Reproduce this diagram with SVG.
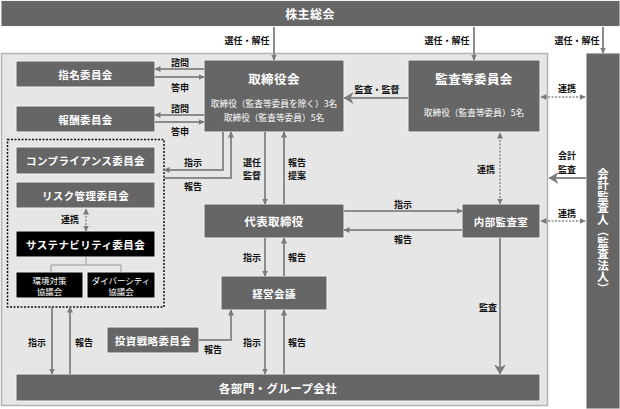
<svg xmlns="http://www.w3.org/2000/svg" width="620" height="409" viewBox="0 0 620 409">
<defs>
<style>
.box{fill:#666;stroke:#f4f4f4;stroke-width:1}
.blk{fill:#000;stroke:#f4f4f4;stroke-width:1}
.t{font-family:"Noto Sans CJK JP","Noto Sans",sans-serif;fill:#fff;text-anchor:middle;dominant-baseline:central;font-weight:bold;font-size:10.5px;letter-spacing:0.4px}
.tn{font-family:"Noto Sans CJK JP","Noto Sans",sans-serif;fill:#fff;text-anchor:middle;dominant-baseline:central;font-size:8.5px}
.ts{font-family:"Noto Sans CJK JP","Noto Sans",sans-serif;fill:#fff;text-anchor:middle;dominant-baseline:central;font-size:8.7px}
.lb{font-family:"Noto Sans CJK JP","Noto Sans",sans-serif;fill:#111;text-anchor:middle;dominant-baseline:central;font-weight:bold;font-size:9px}
.ln{fill:none;stroke:#8c8c8c;stroke-width:2}
.dl{fill:none;stroke:#8c8c8c;stroke-width:1.5;stroke-dasharray:2 1.5}
</style>
<marker id="ah" viewBox="0 0 6 6" refX="5.5" refY="3" markerWidth="6" markerHeight="6" orient="auto-start-reverse" markerUnits="userSpaceOnUse"><path d="M0,0 L6,3 L0,6 z" fill="#7a7a7a"/></marker>
<marker id="ch" viewBox="0 0 10 12" refX="9.5" refY="6" markerWidth="10" markerHeight="12" orient="auto" markerUnits="userSpaceOnUse"><path d="M0,0 L10,6 L0,12 L3,6 z" fill="#7a7a7a"/></marker>
</defs>
<rect x="0" y="0" width="620" height="409" fill="#fff"/>
<rect x="1.5" y="53.5" width="546" height="352" fill="#e6e6e6" stroke="#b4b4b4" stroke-width="1.5"/>

<g id="kabunushi"><rect class="box" x="1" y="0.5" width="619" height="26"/><text class="t" x="310" y="13" style="font-size:12px">株主総会</text></g>
<g id="kaikei"><rect class="box" x="586" y="53" width="34" height="356"/><text class="t" x="603" y="231" style="writing-mode:vertical-rl;font-size:11.5px;letter-spacing:0">会計監査人（監査法人）</text></g>
<g id="shimei"><rect class="box" x="16" y="61" width="139" height="26"/><text class="t" x="85.5" y="74">指名委員会</text></g>
<g id="houshu"><rect class="box" x="16" y="106" width="139" height="26"/><text class="t" x="85.5" y="119">報酬委員会</text></g>
<g id="torishimariyakukai"><rect class="box" x="204" y="60" width="140" height="72"/><text class="t" x="274" y="78" style="font-size:12.5px">取締役会</text><text class="ts" x="274" y="103">取締役（監査等委員を除く）3名</text><text class="ts" x="274" y="117">取締役（監査等委員）5名</text></g>
<g id="kansatou"><rect class="box" x="408" y="60" width="132" height="72"/><text class="t" x="474" y="78" style="font-size:12.5px">監査等委員会</text><text class="ts" x="474" y="112">取締役（監査等委員）5名</text></g>
<g id="group"><rect x="7.5" y="139.5" width="156.5" height="167.5" fill="none" stroke="#111" stroke-width="1.5" stroke-dasharray="2 1.5"/></g>
<g id="compliance"><rect class="box" x="16" y="147" width="139" height="27"/><text class="t" x="85.5" y="160.5">コンプライアンス委員会</text></g>
<g id="risk"><rect class="box" x="16" y="182" width="139" height="26"/><text class="t" x="85.5" y="195">リスク管理委員会</text></g>
<g id="sustain"><rect class="blk" x="16" y="231" width="139" height="26"/><text class="t" x="85.5" y="244">サステナビリティ委員会</text></g>
<g id="kankyo"><rect class="blk" x="16" y="272" width="67" height="26"/><text class="tn" x="49.5" y="279.5">環境対策</text><text class="tn" x="49.5" y="290.5">協議会</text></g>
<g id="diversity"><rect class="blk" x="87" y="272" width="68" height="26"/><text class="tn" x="121" y="279.5">ダイバーシティ</text><text class="tn" x="121" y="290.5">協議会</text></g>
<g id="daihyo"><rect class="box" x="204" y="204" width="140" height="34"/><text class="t" x="274" y="221" style="font-size:11.5px">代表取締役</text></g>
<g id="naibu"><rect class="box" x="462" y="204" width="78" height="34"/><text class="t" x="501" y="221">内部監査室</text></g>
<g id="keiei"><rect class="box" x="221" y="276" width="106" height="34"/><text class="t" x="274" y="293">経営会議</text></g>
<g id="toshi"><rect class="box" x="107" y="327" width="92" height="26"/><text class="t" x="153" y="340">投資戦略委員会</text></g>
<g id="kakubumon"><rect class="box" x="16" y="374" width="524" height="27"/><text class="t" x="278" y="387.5" style="font-size:11.5px">各部門・グループ会社</text></g>

<g id="connectors">
<path class="ln" d="M274,27 V60" marker-end="url(#ah)"/>
<path class="ln" d="M474,27 V60" marker-end="url(#ah)"/>
<path class="ln" d="M603,27 V53" marker-end="url(#ah)"/>
<path class="ln" d="M204,69 H155" marker-end="url(#ah)"/>
<path class="ln" d="M155,77 H204" marker-end="url(#ah)"/>
<path class="ln" d="M204,115 H155" marker-end="url(#ah)"/>
<path class="ln" d="M155,122 H204" marker-end="url(#ah)"/>
<path class="ln" d="M223,132 V170 H164" marker-end="url(#ah)"/>
<path class="ln" d="M164,178 H231 V132" marker-end="url(#ah)"/>
<path class="ln" d="M265,132 V204" marker-end="url(#ah)"/>
<path class="ln" d="M284,204 V132" marker-end="url(#ah)"/>
<path class="ln" d="M408,98 H344" marker-end="url(#ch)"/>
<path class="dl" d="M541,97 H585" marker-start="url(#ah)" marker-end="url(#ah)"/>
<path class="dl" d="M500,133 V204" marker-start="url(#ah)" marker-end="url(#ah)"/>
<path class="ln" d="M344,211 H462" marker-end="url(#ah)"/>
<path class="ln" d="M462,230 H344" marker-end="url(#ah)"/>
<path class="dl" d="M541,221 H585" marker-start="url(#ah)" marker-end="url(#ah)"/>
<path class="ln" d="M586,178 H549" marker-end="url(#ch)"/>
<path class="ln" d="M500,238 V374" marker-end="url(#ch)"/>
<path class="ln" d="M265,238 V276" marker-end="url(#ah)"/>
<path class="ln" d="M284,276 V238" marker-end="url(#ah)"/>
<path class="ln" d="M265,310 V374" marker-end="url(#ah)"/>
<path class="ln" d="M284,374 V310" marker-end="url(#ah)"/>
<path class="ln" d="M199,340 H231 V310" marker-end="url(#ah)"/>
<path class="ln" d="M52,307 V374" marker-end="url(#ah)"/>
<path class="ln" d="M70,374 V307" marker-end="url(#ah)"/>
<path class="dl" d="M86,209 V231" marker-start="url(#ah)" marker-end="url(#ah)"/>
<path fill="none" stroke="#999" stroke-width="1" d="M86,257 V265 M51,265 H121 M51,265 V272 M121,265 V272"/>
</g>

<g id="labels">
<text class="lb" x="247" y="40">選任・解任</text>
<text class="lb" x="447" y="40">選任・解任</text>
<text class="lb" x="577" y="40">選任・解任</text>
<text class="lb" x="180" y="62">諮問</text>
<text class="lb" x="180" y="87">答申</text>
<text class="lb" x="180" y="108">諮問</text>
<text class="lb" x="180" y="131">答申</text>
<text class="lb" x="193" y="162">指示</text>
<text class="lb" x="193" y="186">報告</text>
<text class="lb" x="252" y="162">選任</text>
<text class="lb" x="252" y="175">監督</text>
<text class="lb" x="297" y="162">報告</text>
<text class="lb" x="297" y="175">提案</text>
<text class="lb" x="377" y="89">監査・監督</text>
<text class="lb" x="567" y="88">連携</text>
<text class="lb" x="486" y="169">連携</text>
<text class="lb" x="567" y="155">会計</text>
<text class="lb" x="567" y="169">監査</text>
<text class="lb" x="567" y="213">連携</text>
<text class="lb" x="403" y="204">指示</text>
<text class="lb" x="403" y="239">報告</text>
<text class="lb" x="70" y="219">連携</text>
<text class="lb" x="252" y="257">指示</text>
<text class="lb" x="297" y="257">報告</text>
<text class="lb" x="252" y="342">指示</text>
<text class="lb" x="297" y="342">報告</text>
<text class="lb" x="213" y="349">報告</text>
<text class="lb" x="37" y="342">指示</text>
<text class="lb" x="84" y="342">報告</text>
<text class="lb" x="488" y="307">監査</text>
</g>
</svg>
